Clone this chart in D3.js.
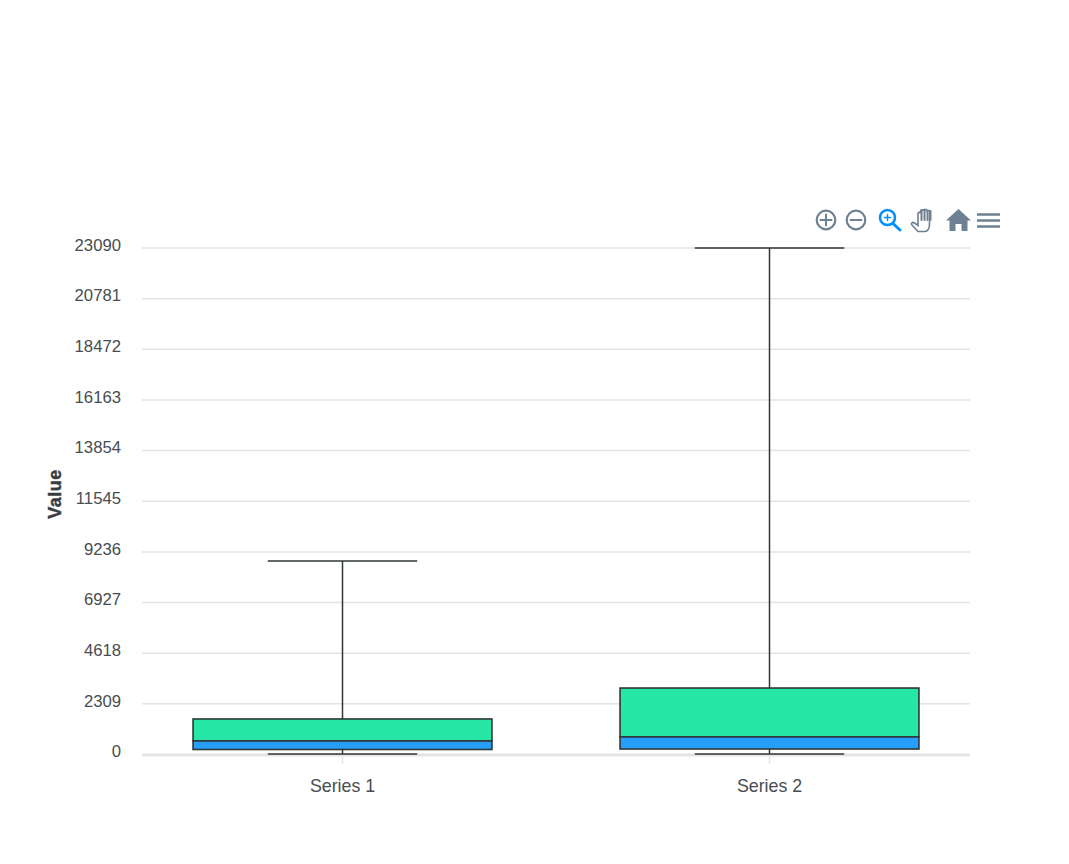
<!DOCTYPE html>
<html>
<head>
<meta charset="utf-8">
<script src="https://cdn.jsdelivr.net/npm/d3@7"></script>
<style>
  html, body { margin: 0; padding: 0; background: #fff; }
  svg { display: block; font-family: "Liberation Sans", Arial, sans-serif; }
</style>
</head>
<body>
<svg id="chart"></svg>
<script>
// Data
const categories = ["Series 1", "Series 2"];
const lows = [20, 20];
const q1s = [228, 250];
const medians = [616, 800];
const q3s = [1620, 3030];
const highs = [8825, 23090];
const yTicks = [0, 2309, 4618, 6927, 9236, 11545, 13854, 16163, 18472, 20781, 23090];

const width = 1069;
const height = 864;
const margin = { top: 247.500, right: 99, bottom: 110, left: 142 };

const svg = d3.select("#chart").attr("width", width).attr("height", height);

const xScale = d3
  .scaleBand()
  .domain(categories)
  .range([129, 983]);

const yScale = d3
  .scaleLinear()
  .domain([0, 23090])
  .range([height - margin.bottom, margin.top]);

const boxWidth = xScale.bandwidth() * 0.7;
const capWidth = xScale.bandwidth() * 0.35;
const center = (i) => xScale(categories[i]) + xScale.bandwidth() / 2;

// Grid lines and y labels
const yAxis = svg
  .append("g")
  .attr("transform", `translate(${margin.left},0)`)
  .call(
    d3.axisLeft(yScale)
      .tickValues(yTicks)
      .tickFormat(d3.format("d"))
      .tickSize(-(width - margin.left - margin.right))
      .tickPadding(21)
  );
yAxis.select(".domain").remove();
yAxis.selectAll(".tick line").attr("stroke", "#e4e4e4").attr("stroke-width", 1.5);
yAxis.selectAll(".tick text")
  .attr("fill", "#484d50")
  .attr("font-size", 16.700)
  .attr("font-family", "Liberation Sans, Arial, sans-serif")
  .attr("dy", "0.16em");

// Baseline and x labels
svg
  .append("line")
  .attr("x1", margin.left)
  .attr("x2", width - margin.right)
  .attr("y1", yScale(0) + 1)
  .attr("y2", yScale(0) + 1)
  .attr("stroke", "#e4e4e4")
  .attr("stroke-width", 3);

const xAxis = svg
  .append("g")
  .attr("transform", `translate(0,${yScale(0)})`)
  .call(d3.axisBottom(xScale).tickSize(10).tickPadding(15));
xAxis.select(".domain").remove();
xAxis.selectAll(".tick line").attr("stroke", "#e4e4e4").attr("stroke-width", 1.5);
xAxis.selectAll(".tick text")
  .attr("fill", "#484d50")
  .attr("font-size", 17.800)
  .attr("font-family", "Liberation Sans, Arial, sans-serif");

// Boxes and whiskers
const stroke = "#2f3638";
const boxes = svg
  .selectAll("g.box")
  .data(categories)
  .join("g")
  .attr("class", "box")
  .attr("transform", "translate(0,0.5)");

boxes
  .append("line")
  .attr("x1", (d, i) => center(i))
  .attr("x2", (d, i) => center(i))
  .attr("y1", (d, i) => yScale(highs[i]))
  .attr("y2", (d, i) => yScale(lows[i]))
  .attr("stroke", stroke)
  .attr("stroke-width", 1.5);

[highs, lows].forEach((values) => {
  boxes
    .append("line")
    .attr("x1", (d, i) => center(i) - capWidth / 2)
    .attr("x2", (d, i) => center(i) + capWidth / 2)
    .attr("y1", (d, i) => yScale(values[i]))
    .attr("y2", (d, i) => yScale(values[i]))
    .attr("stroke", stroke)
    .attr("stroke-width", 1.5);
});

boxes
  .append("rect")
  .attr("x", (d, i) => center(i) - boxWidth / 2)
  .attr("width", boxWidth)
  .attr("y", (d, i) => yScale(q3s[i]))
  .attr("height", (d, i) => yScale(medians[i]) - yScale(q3s[i]))
  .attr("fill", "#26e7a6")
  .attr("stroke", stroke)
  .attr("stroke-width", 1.6);

boxes
  .append("rect")
  .attr("x", (d, i) => center(i) - boxWidth / 2)
  .attr("width", boxWidth)
  .attr("y", (d, i) => yScale(medians[i]))
  .attr("height", (d, i) => yScale(q1s[i]) - yScale(medians[i]))
  .attr("fill", "#269ffb")
  .attr("stroke", stroke)
  .attr("stroke-width", 1.6);

// Axis title
svg
  .append("text")
  .attr("transform", `translate(60.500,494) rotate(-90)`)
  .attr("text-anchor", "middle")
  .attr("font-size", 18)
  .attr("font-weight", 900)
  .attr("letter-spacing", 0.500)
  .attr("fill", "#373d3f")
  .attr("stroke", "#373d3f")
  .attr("stroke-width", 0.400)
  .text("Value");

// Toolbar icons
const toolbar = svg.append("g").attr("fill", "none").attr("stroke-linecap", "round");
const grey = "#6e8192";
const blue = "#008ffb";

toolbar.append("circle").attr("cx", 826).attr("cy", 220).attr("r", 9.300).attr("stroke", grey).attr("stroke-width", 2.200);
toolbar.append("path").attr("d", "M820.500 220h11M826 214.500v11").attr("stroke", grey).attr("stroke-width", 2);
toolbar.append("circle").attr("cx", 856).attr("cy", 220).attr("r", 9.300).attr("stroke", grey).attr("stroke-width", 2.200);
toolbar.append("path").attr("d", "M850.500 220h11").attr("stroke", grey).attr("stroke-width", 2);

toolbar.append("circle").attr("cx", 887.500).attr("cy", 217.500).attr("r", 7.500).attr("stroke", blue).attr("stroke-width", 2.600);
toolbar.append("path").attr("d", "M893 223.500l7 6.500").attr("stroke", blue).attr("stroke-width", 3);
toolbar.append("path").attr("d", "M884.500 217.500h6M887.500 214.500v6").attr("stroke", blue).attr("stroke-width", 1.400);

toolbar.append("path")
  .attr("d", "M918 231.500l-6-6.500c-1.500-1.500 0.500-3.500 2.500-2l3.500 2.500v-12c0-1.500 2.500-1.500 2.500 0v-2.500c0-1.500 3-1.500 3 0v-0.500c0-1.500 3-1.500 3 0v1c0-1.500 3-1.500 3 0v13c0 4-2 7-4.500 7z")
  .attr("fill", "#fff")
  .attr("stroke", grey)
  .attr("stroke-width", 1.600);
toolbar.append("path").attr("d", "M921.500 211v9M924.500 211v9M927.500 211v9M930.500 211v9").attr("stroke", grey).attr("stroke-width", 2);

toolbar.append("path")
  .attr("d", "M958.500 209l12.500 11.500h-3.500v10.500h-6v-7h-6v7h-6v-10.500h-3.500z")
  .attr("fill", grey);

toolbar.append("path")
  .attr("d", "M977 214.500h23M977 220.500h23M977 226.500h23")
  .attr("stroke", grey)
  .attr("stroke-width", 2.500)
  .attr("stroke-linecap", "butt");
</script>
</body>
</html>
